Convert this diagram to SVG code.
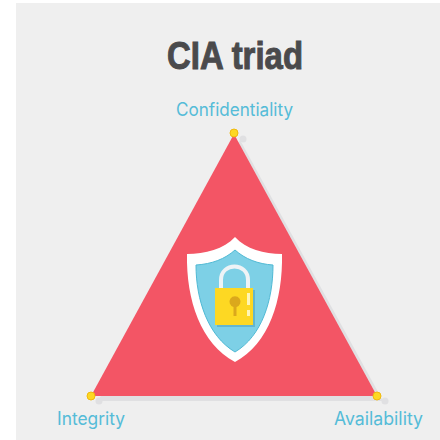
<svg xmlns="http://www.w3.org/2000/svg" width="440" height="440" viewBox="0 0 440 440">
<style>
.lbl{font-family:"Inter","DejaVu Sans",sans-serif;font-size:18px;fill:#55bcd8}
.dot{fill:#fdd823;stroke:#f0b90f;stroke-width:1}
.sh{fill:#e0e0e2}
</style>
<rect width="440" height="440" fill="#fff"/>
<rect x="16" y="3" width="424" height="437" fill="#efefef"/>
<text x="235" y="69" text-anchor="middle" font-family="'Liberation Sans',Arial,sans-serif" font-size="38" font-weight="700" fill="#4a4a4c" stroke="#4a4a4c" stroke-width="1" textLength="136" lengthAdjust="spacingAndGlyphs">CIA triad</text>
<g id="shadow">
<path d="M240 140 L383 401 L98 401Z" class="sh"/>
<circle class="sh" cx="243" cy="139" r="3.500"/>
<circle class="sh" cx="99" cy="401" r="3.500"/>
<circle class="sh" cx="385" cy="401" r="3.500"/>
</g>
<g id="triangle"><path d="M234 134 L377 396 L91 396Z" fill="#f35565"/></g>
<g id="shield">
<path d="M235 237 C246 249 264 254 282 254 C283 300 269 344 235 362 C201 344 186 300 187 254 C205 254 224 249 235 237Z" fill="#fff"/>
<path d="M235 250 C245 259 258 264 273 265 C273 300 262 336 235 352 C208 336 196 300 196 265 C212 264 225 259 235 250Z" fill="#7dd0e6" stroke="#4fb9d4" stroke-width="1"/>
<path d="M221 289 V280 C221 262 248 262 248 280 V289" fill="none" stroke="#eef3f6" stroke-width="4"/>
<rect x="217" y="290" width="38" height="37" fill="#63b6cf"/>
<rect x="215" y="288" width="38" height="37" fill="#fdd823"/>
<path d="M233.500 307 A5.500 5.500 0 1 1 236.500 307 V316 H233.500Z" fill="#dba81c"/>
<rect x="247" y="293" width="3" height="12" fill="#fff6b5"/>
<rect x="247" y="310" width="3" height="6" fill="#fff6b5"/>
</g>
<g id="dots">
<circle class="dot" cx="234" cy="133" r="4"/>
<circle class="dot" cx="91" cy="396" r="4"/>
<circle class="dot" cx="377" cy="396" r="4"/>
</g>
<g id="labels">
<text class="lbl" x="234.500" y="116" text-anchor="middle" textLength="117" lengthAdjust="spacingAndGlyphs">Confidentiality</text>
<text class="lbl" x="91" y="425" text-anchor="middle" textLength="68" lengthAdjust="spacingAndGlyphs">Integrity</text>
<text class="lbl" x="378.500" y="425" text-anchor="middle" textLength="89" lengthAdjust="spacingAndGlyphs">Availability</text>
</g>
</svg>
